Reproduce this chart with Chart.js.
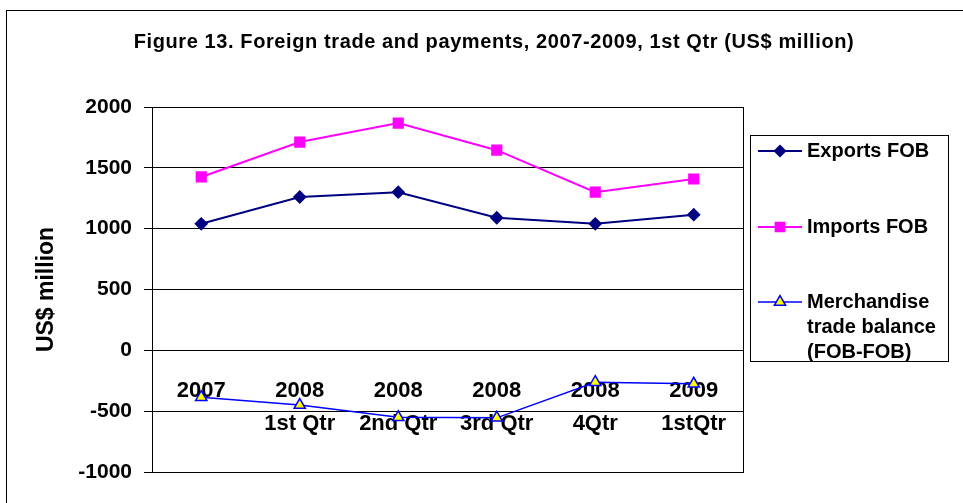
<!DOCTYPE html>
<html>
<head>
<meta charset="utf-8">
<script src="https://cdn.jsdelivr.net/npm/chart.js@4.4.1/dist/chart.umd.min.js"></script>
<style>
  body { margin: 0; background: #fff; }
  canvas { display: block; }
</style>
</head>
<body>
<canvas id="chart" width="963" height="503"></canvas>
<script>
// values (US$ million)
const categories = [['2007'], ['2008', '1st Qtr'], ['2008', '2nd Qtr'], ['2008', '3rd Qtr'], ['2008', '4Qtr'], ['2009', '1stQtr']];
const exportsFob = [1040, 1260, 1300, 1090, 1040, 1115];
const importsFob = [1425, 1712, 1868, 1645, 1300, 1408];
const tradeBalance = [-385, -450, -550, -555, -262, -275];
const seriesNames = [['Exports FOB'], ['Imports FOB'], ['Merchandise', 'trade balance', '(FOB-FOB)']];
const yTicks = [2000, 1500, 1000, 500, 0, -500, -1000];

const FONT = 'Arial, "Liberation Sans", sans-serif';
const TITLE = 'Figure 13. Foreign trade and payments, 2007-2009, 1st Qtr (US$ million)';

// outer frame, title and plot border
const framePlugin = {
  id: 'frame',
  beforeDraw(chart) {
    const ctx = chart.ctx;
    ctx.save();
    ctx.fillStyle = '#fff';
    ctx.fillRect(0, 0, chart.width, chart.height);
    ctx.strokeStyle = '#000';
    ctx.lineWidth = 1;
    ctx.strokeRect(6.5, 10.5, chart.width + 20, chart.height + 20);
    ctx.fillStyle = '#000';
    ctx.font = 'bold 20px ' + FONT;
    ctx.letterSpacing = '0.6px';
    ctx.textAlign = 'center';
    ctx.textBaseline = 'middle';
    ctx.fillText(TITLE, 494, 42);
    ctx.restore();
  },
  beforeDatasetsDraw(chart) {
    const a = chart.chartArea, ctx = chart.ctx;
    ctx.save();
    ctx.strokeStyle = '#000';
    ctx.lineWidth = 1;
    ctx.strokeRect(Math.round(a.left) + 0.5, Math.round(a.top) + 0.5, Math.round(a.right - a.left), Math.round(a.bottom - a.top));
    ctx.restore();
  }
};

// boxed legend on the right, with wrapped last entry
const legendPlugin = {
  id: 'boxLegend',
  afterDraw(chart) {
    const ctx = chart.ctx;
    ctx.save();
    ctx.strokeStyle = '#000';
    ctx.lineWidth = 1;
    ctx.strokeRect(750.5, 135.5, 198, 226);
    const rowY = [151, 227, 302];
    ctx.font = 'bold 20px ' + FONT;
    ctx.textBaseline = 'middle';
    ctx.textAlign = 'left';
    chart.data.datasets.forEach((ds, i) => {
      const y = rowY[i];
      ctx.strokeStyle = ds.borderColor;
      ctx.lineWidth = ds.borderWidth;
      ctx.beginPath();
      ctx.moveTo(758, y);
      ctx.lineTo(802, y);
      ctx.stroke();
      ctx.fillStyle = ds.pointBackgroundColor;
      ctx.strokeStyle = ds.pointBorderColor;
      ctx.lineWidth = 1.5;
      Chart.helpers.drawPoint(ctx, { pointStyle: ds.pointStyle, radius: ds.pointRadius, rotation: 0, borderWidth: 1.5 }, 780, y);
      ctx.fillStyle = '#000';
      seriesNames[i].forEach((line, j) => ctx.fillText(line, 807, y + j * 25));
    });
    ctx.restore();
  }
};

new Chart(document.getElementById('chart'), {
  type: 'line',
  data: {
    labels: categories,
    datasets: [
      {
        label: seriesNames[0].join(' '),
        data: exportsFob,
        borderColor: '#000080',
        borderWidth: 2,
        pointStyle: 'rectRot',
        pointRadius: 5.5,
        pointBackgroundColor: '#000080',
        pointBorderColor: '#000080'
      },
      {
        label: seriesNames[1].join(' '),
        data: importsFob,
        borderColor: '#ff00ff',
        borderWidth: 2,
        pointStyle: 'rect',
        pointRadius: 6.5,
        pointBackgroundColor: '#ff00ff',
        pointBorderColor: '#ff00ff'
      },
      {
        label: seriesNames[2].join(' '),
        data: tradeBalance,
        borderColor: '#0000ff',
        borderWidth: 1.5,
        pointStyle: 'triangle',
        pointRadius: 6.5,
        pointBorderWidth: 1.5,
        pointBackgroundColor: '#ffff00',
        pointBorderColor: '#0000ff'
      }
    ]
  },
  options: {
    responsive: false,
    animation: false,
    layout: { padding: { top: 107, right: 220, bottom: 31, left: 0 } },
    plugins: {
      legend: { display: false },
      title: { display: false },
      tooltip: { enabled: false }
    },
    elements: { line: { tension: 0 }, point: { borderWidth: 1 } },
    scales: {
      x: {
        position: { y: 0 },
        offset: true,
        grid: { display: false, drawTicks: false },
        border: { display: false },
        ticks: {
          color: '#000',
          padding: 24,
          maxRotation: 0,
          autoSkip: false,
          font: { family: FONT, size: 22, weight: 'bold', lineHeight: 1.5 }
        }
      },
      y: {
        min: -1000,
        max: 2000,
        afterBuildTicks(scale) { scale.ticks = yTicks.map(v => ({ value: v })); },
        afterFit(scale) { scale.width = 152; },
        grid: { color: '#000', lineWidth: 1, tickLength: 8, tickColor: '#000' },
        border: { display: true, color: '#000', width: 1 },
        ticks: {
          color: '#000',
          padding: 12,
          callback: v => String(v),
          font: { family: FONT, size: 21, weight: 'bold' }
        },
        title: {
          display: true,
          text: 'US$ million',
          color: '#000',
          padding: { top: 33, bottom: 0 },
          font: { family: FONT, size: 23, weight: 'bold' }
        }
      }
    }
  },
  plugins: [framePlugin, legendPlugin]
});
</script>
</body>
</html>
